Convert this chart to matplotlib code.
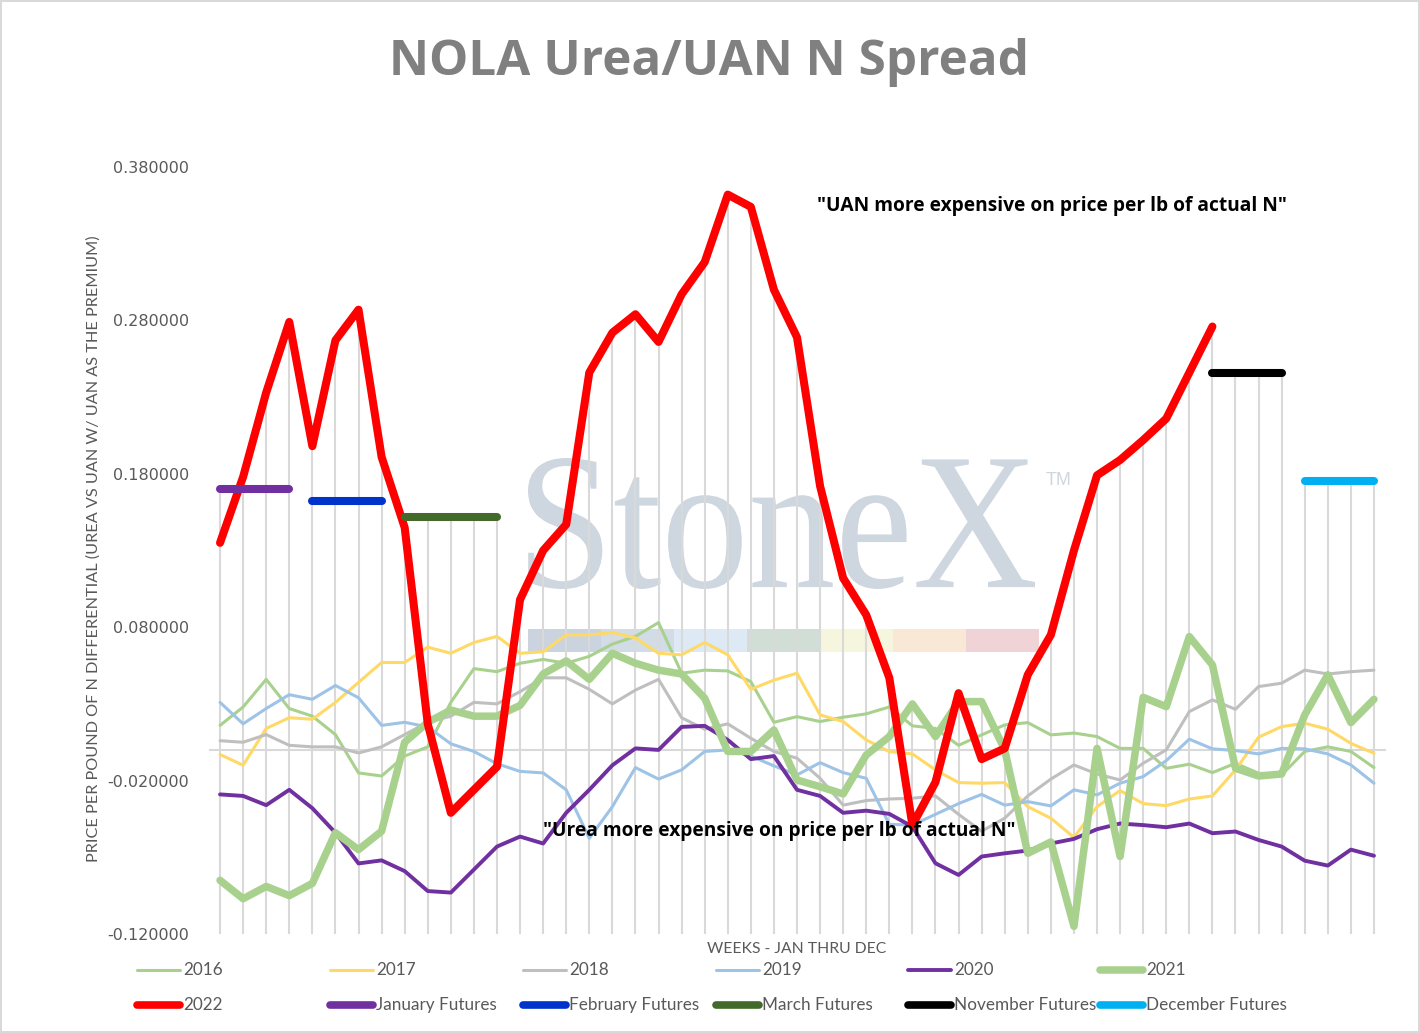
import numpy as np
import matplotlib
matplotlib.use("Agg")
import matplotlib.pyplot as plt
from matplotlib.lines import Line2D
from matplotlib.patches import PathPatch, Rectangle
from matplotlib.textpath import TextPath
from matplotlib.font_manager import FontProperties
from matplotlib.transforms import Affine2D
from matplotlib.ticker import FormatStrFormatter

W, H = 1420, 1033  # output size in pixels

# ---- data (price per lb N differential, weekly) ----
weeks = np.arange(51)

y2016 = [0.016, 0.028, 0.046, 0.027, 0.022, 0.010, -0.015, -0.017, -0.004, 0.002,
         0.031, 0.053, 0.051, 0.0565, 0.059, 0.0565, 0.061, 0.069, 0.074, 0.083,
         0.050, 0.052, 0.0515, 0.0445, 0.018, 0.0217, 0.0185, 0.0213, 0.0235, 0.028,
         0.0157, 0.014, 0.003, 0.0098, 0.0163, 0.0178, 0.0098, 0.011, 0.0087, 0.001,
         0.001, -0.012, -0.0093, -0.0148, -0.0087, -0.0152, -0.0163, -0.001, 0.002, -0.001,
         -0.0115]
y2017 = [-0.003, -0.010, 0.014, 0.021, 0.020, 0.031, 0.044, 0.057, 0.057, 0.067,
         0.063, 0.070, 0.074, 0.063, 0.064, 0.075, 0.075, 0.0765, 0.073, 0.063,
         0.062, 0.070, 0.062, 0.0395, 0.0455, 0.050, 0.0228, 0.0185, 0.0065, -0.0011,
         -0.0026, -0.013, -0.0213, -0.0217, -0.0213, -0.037, -0.0445, -0.057, -0.037, -0.0265,
         -0.035, -0.0363, -0.032, -0.030, -0.013, 0.0083, 0.0152, 0.0174, 0.0135, 0.0043,
         -0.0022]
y2018 = [0.006, 0.005, 0.010, 0.003, 0.002, 0.002, -0.002, 0.002, 0.010, 0.018,
         0.022, 0.031, 0.030, 0.038, 0.047, 0.047, 0.0395, 0.030, 0.039, 0.046,
         0.021, 0.0135, 0.017, 0.0076, -0.001, -0.0054, -0.0185, -0.036, -0.033, -0.032,
         -0.0315, -0.030, -0.042, -0.053, -0.0445, -0.030, -0.019, -0.0098, -0.0157, -0.0196,
         -0.0087, 0.0, 0.025, 0.0326, 0.0265, 0.0413, 0.0435, 0.052, 0.0495, 0.051,
         0.052]
y2019 = [0.031, 0.017, 0.027, 0.036, 0.033, 0.042, 0.034, 0.016, 0.018, 0.015,
         0.004, -0.001, -0.009, -0.014, -0.015, -0.026, -0.0576, -0.037, -0.0115, -0.019,
         -0.013, -0.001, 0.0, -0.004, -0.0104, -0.0163, -0.0083, -0.0148, -0.0185, -0.0485,
         -0.049, -0.042, -0.035, -0.029, -0.036, -0.0337, -0.0365, -0.026, -0.0293, -0.0217,
         -0.0174, -0.007, 0.007, 0.0007, -0.0004, -0.0026, 0.001, 0.0007, -0.0026, -0.0098,
         -0.0217]
y2020 = [-0.029, -0.030, -0.036, -0.026, -0.038, -0.054, -0.074, -0.072, -0.079, -0.092,
         -0.093, -0.078, -0.063, -0.0565, -0.061, -0.041, -0.026, -0.010, 0.001, 0.000,
         0.015, 0.0157, 0.0065, -0.006, -0.004, -0.026, -0.030, -0.041, -0.0396, -0.0417,
         -0.050, -0.0739, -0.0815, -0.0695, -0.0674, -0.0656, -0.061, -0.058, -0.0517, -0.048,
         -0.049, -0.0504, -0.048, -0.0543, -0.0532, -0.0587, -0.063, -0.0722, -0.0754, -0.065,
         -0.069]
y2021 = [-0.085, -0.097, -0.089, -0.095, -0.087, -0.054, -0.065, -0.053, 0.005, 0.018,
         0.026, 0.022, 0.022, 0.029, 0.0495, 0.058, 0.046, 0.063, 0.0565, 0.052,
         0.0495, 0.0337, -0.001, -0.001, 0.013, -0.0196, -0.024, -0.0287, -0.0033, 0.0087,
         0.030, 0.0087, 0.0315, 0.0315, 0.0, -0.0674, -0.060, -0.115, 0.001, -0.0695,
         0.0343, 0.0282, 0.0739, 0.0554, -0.012, -0.017, -0.0157, 0.0228, 0.049, 0.0178,
         0.033]
y2022 = [0.135, 0.178, 0.233, 0.279, 0.198, 0.267, 0.287, 0.191, 0.145, 0.017,
         -0.041, -0.026, -0.011, 0.098, 0.130, 0.147, 0.246, 0.272, 0.284, 0.266,
         0.297, 0.318, 0.362, 0.354, 0.300, 0.269, 0.172, 0.112, 0.088, 0.047,
         -0.049, -0.021, 0.037, -0.006, 0.001, 0.049, 0.075, 0.130, 0.179, 0.189,
         0.202, 0.216, 0.246, 0.276]

jan_weeks, jan_fut = [0, 1, 2, 3], [0.170, 0.170, 0.170, 0.170]
feb_weeks, feb_fut = [4, 5, 6, 7], [0.162, 0.162, 0.162, 0.162]
mar_weeks, mar_fut = [8, 9, 10, 11, 12], [0.152, 0.152, 0.152, 0.152, 0.152]
nov_weeks, nov_fut = [43, 44, 45, 46], [0.246, 0.246, 0.246, 0.246]
dec_weeks, dec_fut = [47, 48, 49, 50], [0.175, 0.175, 0.175, 0.175]

y_ticks = [-0.12, -0.02, 0.08, 0.18, 0.28, 0.38]

# (label, x, y, color, linewidth)
series = [
    ("2016", weeks, y2016, "#a9d18e", 2.2),
    ("2017", weeks, y2017, "#ffd966", 2.2),
    ("2018", weeks, y2018, "#bfbfbf", 2.2),
    ("2019", weeks, y2019, "#9dc3e6", 2.2),
    ("2020", weeks, y2020, "#7030a0", 2.8),
    ("2021", weeks, y2021, "#a9d18e", 5.4),
    ("2022", weeks[:len(y2022)], y2022, "#ff0000", 5.8),
    ("January Futures", jan_weeks, jan_fut, "#7030a0", 5.8),
    ("February Futures", feb_weeks, feb_fut, "#0033cc", 5.8),
    ("March Futures", mar_weeks, mar_fut, "#436a2b", 5.8),
    ("November Futures", nov_weeks, nov_fut, "#000000", 5.8),
    ("December Futures", dec_weeks, dec_fut, "#00b0f0", 5.8),
]

GRAY_TXT = "#595959"
NARROW = ["Liberation Sans Narrow", "Lato", "DejaVu Sans"]


def px(x, y):
    """pixel position (from top-left) -> figure fraction"""
    return x / W, 1 - y / H


fig = plt.figure(figsize=(W / 100, H / 100), dpi=100)
fig.patch.set_facecolor("white")
fig.patch.set_edgecolor("#d9d9d9")
fig.patch.set_linewidth(1.5)

ax = fig.add_axes([208.5 / W, 1 - 934 / H, (1385.5 - 208.5) / W, (934 - 167) / H])
ax.set_facecolor("none")
ax.set_xlim(-0.5, 50.5)
ax.set_ylim(-0.12, 0.38)

# ---- StoneX watermark (pixel coords) ----
pix = Affine2D().scale(1 / 100) + fig.dpi_scale_trans
wm_col = "#ced6df"
tp = TextPath((0, 0), "StoneX", size=1, prop=FontProperties(family="Liberation Serif"))
ext = tp.get_extents()
wm_tr = (Affine2D().translate(-ext.x0, -ext.y0)
         .scale((1035 - 528) / ext.width, (589 - 458) / ext.height)
         .translate(528, H - 589)) + pix
wm = PathPatch(tp, transform=wm_tr, facecolor=wm_col, edgecolor="none", zorder=0.5)
wm.set_clip_on(False)
ax.add_artist(wm)
stripe_cols = ["#cad3de", "#d2dce6", "#dde9f4", "#d1ded6", "#f6f6de", "#f8e8d5", "#efd3d7"]
for k, c in enumerate(stripe_cols):
    r = Rectangle((528 + k * 73, H - 652), 73, 23, transform=pix, facecolor=c,
                  edgecolor="none", zorder=0.5)
    r.set_clip_on(False)
    ax.add_artist(r)
fig.text(*px(1046, 485), "TM", fontsize=13, color=wm_col, family="Liberation Sans",
         va="baseline", ha="left")

# ---- drop lines from the highest point of each week ----
full = np.full((len(series), len(weeks)), np.nan)
for k, (_, xs, ys, _, _) in enumerate(series):
    full[k, list(xs)] = ys
tops = np.nanmax(full, axis=0)
ax.vlines(weeks, -0.12, tops, color="#d9d9d9", lw=1.5, zorder=1)
ax.axhline(0, color="#d9d9d9", lw=1.5, zorder=1)

# ---- series ----
handles = []
for k, (lab, xs, ys, col, lw) in enumerate(series):
    ln, = ax.plot(xs, ys, color=col, lw=lw, solid_capstyle="round",
                  solid_joinstyle="round", zorder=2 + k * 0.01, label=lab)
    handles.append(ln)

# ---- axes styling ----
for s in ax.spines.values():
    s.set_visible(False)
ax.set_xticks([])
ax.set_yticks(y_ticks)
ax.yaxis.set_major_formatter(FormatStrFormatter("%.6f"))
ax.tick_params(axis="y", length=0, pad=14, labelsize=11.5, labelcolor=GRAY_TXT)

# ---- texts ----
r = fig.canvas.get_renderer()


def fit(t, width=None, height=None):
    bb = t.get_window_extent(r)
    if width:
        t.set_fontsize(t.get_fontsize() * width / bb.width)
    else:
        t.set_fontsize(t.get_fontsize() * height / bb.height)


title = fig.text(*px(709, 75), "NOLA Urea/UAN N Spread", fontsize=40, fontweight="bold",
                 color="#808080", family="Open Sans", ha="center", va="baseline")
fit(title, width=638)

t1 = fig.text(*px(1052, 206), '"UAN more expensive on price per lb of actual N"', fontsize=14,
              fontweight="bold", color="black", family="Open Sans", ha="center", va="center")
fit(t1, width=470)
t2 = fig.text(*px(779, 831), '"Urea more expensive on price per lb of actual N"', fontsize=14,
              fontweight="bold", color="black", family="Open Sans", ha="center", va="center",
              zorder=5)
fit(t2, width=473)

yl = fig.text(*px(94, 549), "PRICE PER POUND OF N DIFFERENTIAL (UREA VS UAN W/ UAN AS THE PREMIUM)",
              rotation=90, fontsize=13, color=GRAY_TXT, family=NARROW, ha="center", va="center")
fit(yl, height=622)
xl = fig.text(*px(797, 949), "WEEKS - JAN THRU DEC", fontsize=13, color=GRAY_TXT,
              family=NARROW, ha="center", va="center")
fit(xl, width=178)

# ---- legend, two rows of six like Excel ----
col_x = [137, 330, 523, 716, 908, 1100]
row_y = [970, 1005]
for k, h in enumerate(handles):
    cx, cy = col_x[k % 6], row_y[k // 6]
    x0, y0 = px(cx, cy)
    x1, _ = px(cx + 43, cy)
    fig.add_artist(Line2D([x0, x1], [y0, y0], transform=fig.transFigure, color=h.get_color(),
                          lw=min(h.get_linewidth(), 5.5), solid_capstyle="round"))
    fig.text(*px(cx + 46, cy), h.get_label(), fontsize=12.3, color=GRAY_TXT, family=NARROW,
             ha="left", va="center")

fig.savefig("out.png", dpi=100, facecolor="white")
